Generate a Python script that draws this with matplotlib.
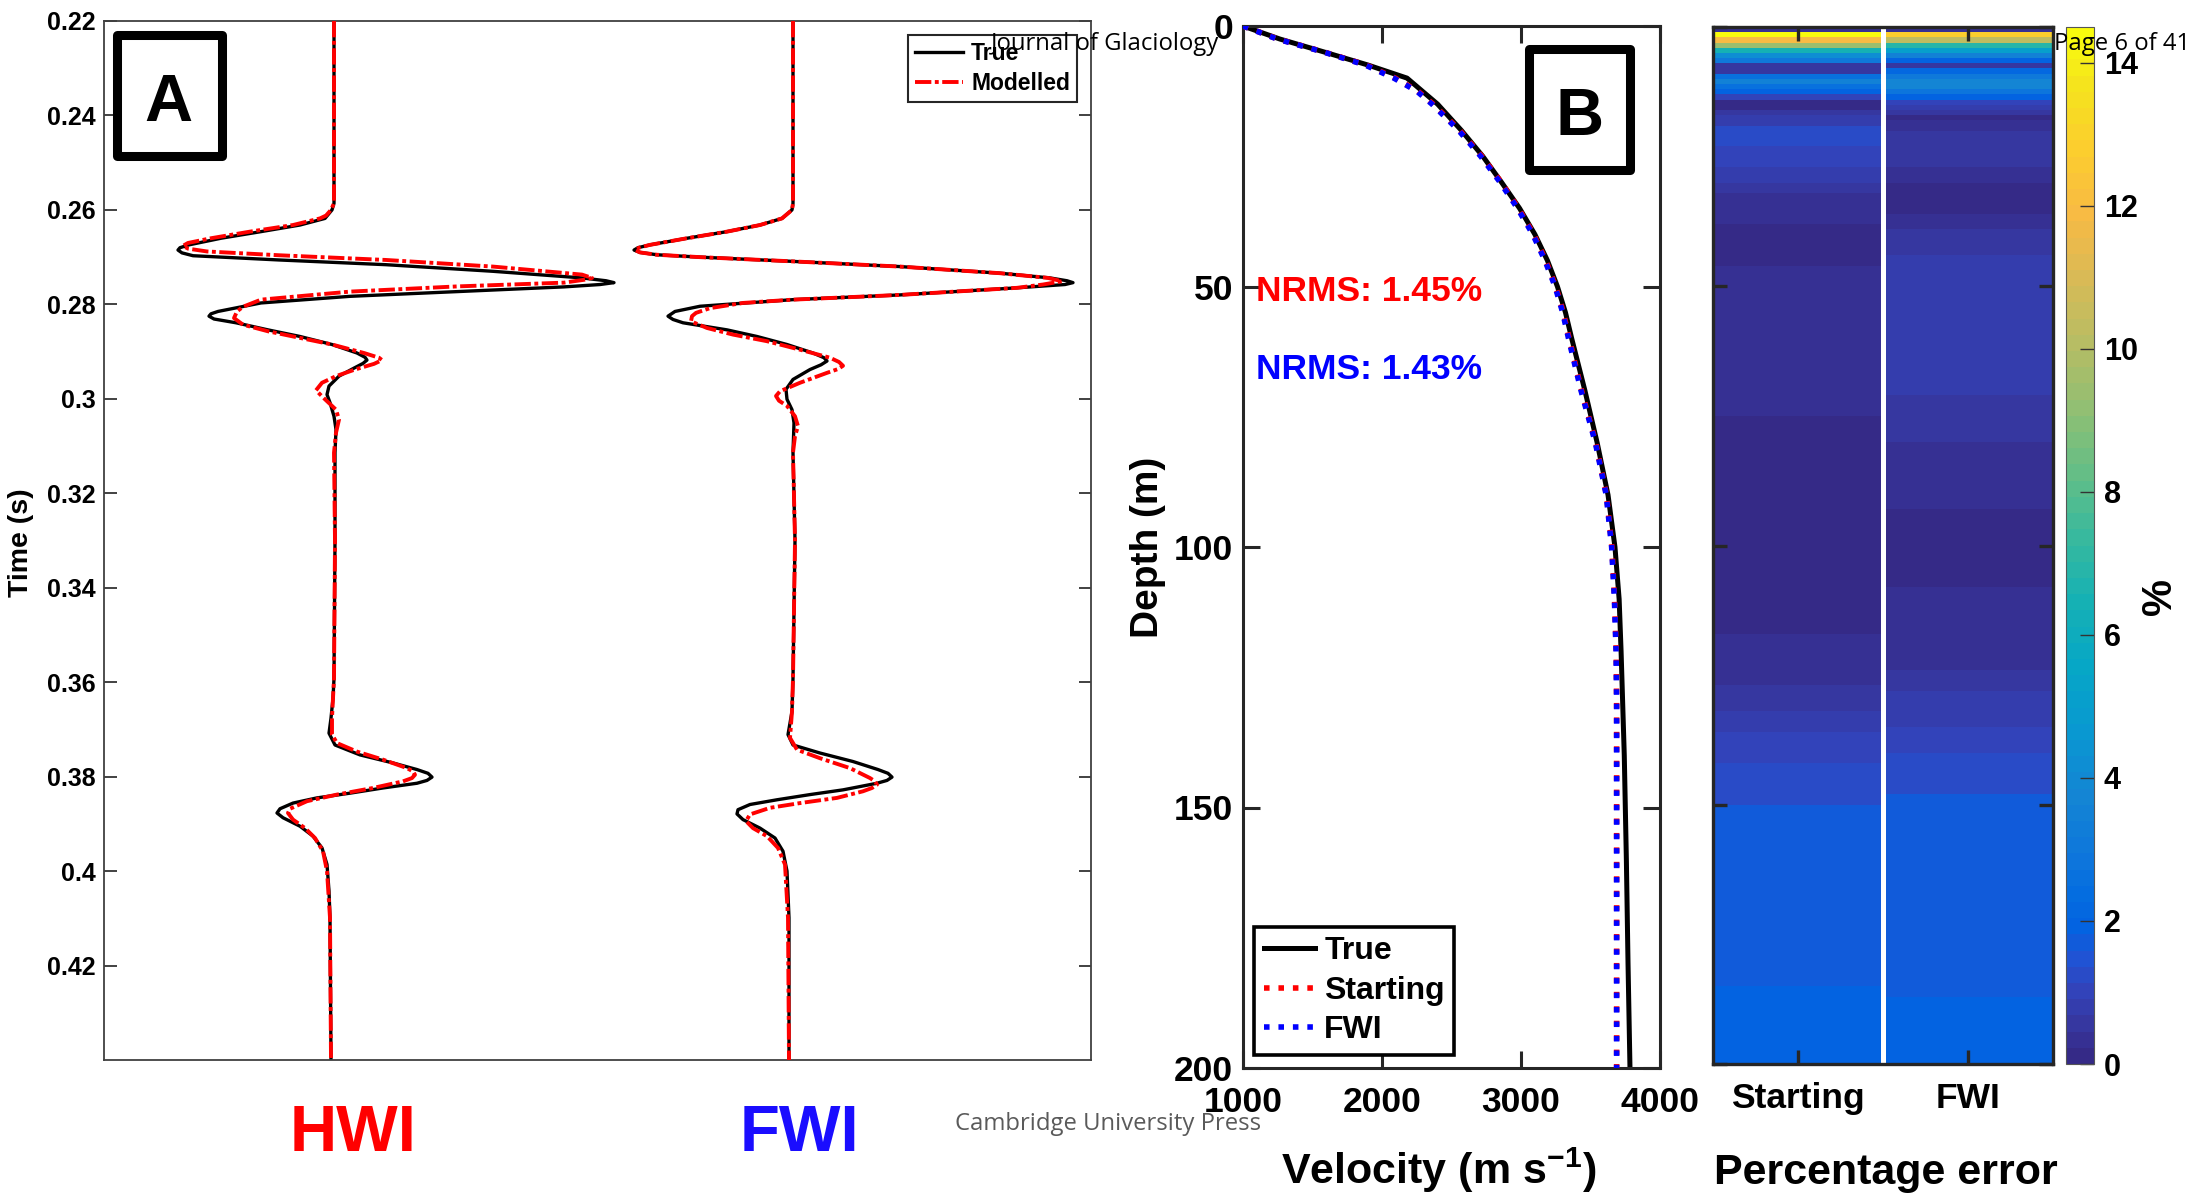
import numpy as np
import matplotlib
matplotlib.use("Agg")
import matplotlib.pyplot as plt
from matplotlib.colors import LinearSegmentedColormap, Normalize
from matplotlib.patches import Rectangle

# ---------------- panel A: traces as (time s, amplitude) ----------------
hwi_true = [(0.22, 0), (0.2586, 0), (0.2600, -2), (0.2618, -9), (0.2632, -34), (0.2646, -73),
            (0.2660, -113), (0.2674, -145), (0.2680, -154), (0.2685, -156), (0.2691, -152),
            (0.2697, -141), (0.2706, -55), (0.2716, 52), (0.2730, 159), (0.2744, 248),
            (0.2750, 272), (0.2754, 280), (0.2758, 266), (0.2763, 230), (0.2773, 123),
            (0.2783, 16), (0.2797, -73), (0.2815, -116), (0.2820, -123), (0.2825, -125),
            (0.2831, -120), (0.2839, -98), (0.2854, -66), (0.2868, -34), (0.2885, -2),
            (0.2903, 23), (0.2912, 31), (0.2918, 33), (0.2925, 29), (0.2935, 20), (0.2952, 5),
            (0.2973, -5), (0.2991, -7), (0.3008, -4), (0.3037, 0), (0.3065, 2), (0.3114, 1),
            (0.3300, 1), (0.3592, 0), (0.3634, -1), (0.3676, -3), (0.3708, -5), (0.3733, 1),
            (0.3754, 26), (0.3771, 59), (0.3785, 83), (0.3793, 94), (0.3801, 98), (0.3808, 93),
            (0.3814, 83), (0.3824, 49), (0.3835, 16), (0.3845, -17), (0.3856, -41),
            (0.3868, -54), (0.3877, -57), (0.3887, -51), (0.3905, -34), (0.3926, -21),
            (0.3951, -12), (0.3986, -7), (0.4042, -5), (0.4099, -4), (0.44, -3)]

hwi_model = [(0.22, 0), (0.2586, 0), (0.2600, -3), (0.2612, -8), (0.2618, -14), (0.2632, -41),
             (0.2646, -84), (0.2660, -123), (0.2670, -146), (0.2676, -151), (0.2682, -146),
             (0.2688, -127), (0.2696, -55), (0.2706, 52), (0.2720, 159), (0.2737, 248),
             (0.2744, 258), (0.2748, 250), (0.2754, 230), (0.2762, 123), (0.2773, 16),
             (0.2790, -73), (0.2805, -91), (0.2815, -97), (0.2829, -100), (0.2843, -91),
             (0.2857, -66), (0.2871, -34), (0.2885, -2), (0.2903, 30), (0.2913, 45),
             (0.2918, 48), (0.2926, 40), (0.2938, 21), (0.2952, 2), (0.2966, -12),
             (0.2982, -18), (0.3001, -9), (0.3023, 2), (0.3044, 5), (0.3072, 2), (0.3114, 0),
             (0.3300, 1), (0.3592, 0), (0.3676, -2), (0.3711, -2), (0.3729, 3), (0.3747, 23),
             (0.3764, 49), (0.3782, 73), (0.3789, 79), (0.3796, 81), (0.3803, 78), (0.3810, 69),
             (0.3824, 39), (0.3838, 3), (0.3852, -27), (0.3868, -44), (0.3877, -46),
             (0.3891, -41), (0.3909, -29), (0.3930, -19), (0.3958, -11), (0.4000, -7),
             (0.4099, -4), (0.44, -3)]

fwi_true = [(0.22, 0), (0.2586, 0), (0.2600, -1), (0.2618, -11), (0.2632, -33), (0.2646, -66),
            (0.2660, -106), (0.2674, -143), (0.2680, -155), (0.2685, -159), (0.2690, -153),
            (0.2695, -136), (0.2700, -93), (0.2709, 0), (0.2720, 107), (0.2734, 207),
            (0.2744, 257), (0.2750, 274), (0.2754, 280), (0.2758, 272), (0.2765, 224),
            (0.2780, 107), (0.2790, 0), (0.2804, -93), (0.2815, -118), (0.2825, -125),
            (0.2832, -120), (0.2839, -110), (0.2854, -66), (0.2868, -36), (0.2885, -6),
            (0.2903, 20), (0.2913, 31), (0.2920, 34), (0.2928, 28), (0.2938, 17), (0.2959, 0),
            (0.2980, -7), (0.3001, -6), (0.3023, -1), (0.3051, 1), (0.3114, 0), (0.3300, 2),
            (0.3592, 0), (0.3662, -1), (0.3711, -5), (0.3733, 0), (0.3750, 27), (0.3768, 60),
            (0.3785, 85), (0.3793, 95), (0.3801, 99), (0.3808, 94), (0.3814, 84), (0.3828, 50),
            (0.3838, 17), (0.3849, -16), (0.3859, -43), (0.3870, -55), (0.3879, -56),
            (0.3891, -50), (0.3909, -33), (0.3930, -18), (0.3958, -10), (0.4000, -6),
            (0.4099, -4), (0.44, -4)]

fwi_model = [(0.22, 0), (0.2586, 0), (0.2600, -1), (0.2618, -11), (0.2632, -33), (0.2646, -66),
             (0.2660, -106), (0.2674, -143), (0.2680, -154), (0.2685, -158), (0.2690, -153),
             (0.2695, -136), (0.2700, -93), (0.2709, 0), (0.2720, 107), (0.2734, 207),
             (0.2744, 255), (0.2751, 269), (0.2758, 250), (0.2765, 224), (0.2780, 107),
             (0.2790, 0), (0.2797, -50), (0.2808, -83), (0.2818, -97), (0.2825, -101),
             (0.2836, -102), (0.2850, -86), (0.2864, -60), (0.2878, -26), (0.2896, 7),
             (0.2913, 37), (0.2922, 46), (0.2930, 50), (0.2937, 45), (0.2945, 34), (0.2966, 7),
             (0.2984, -13), (0.2994, -17), (0.3004, -14), (0.3015, -6), (0.3037, 2),
             (0.3058, 5), (0.3079, 2), (0.3114, 0), (0.3300, 2), (0.3592, 0), (0.3662, -1),
             (0.3718, -3), (0.3743, 4), (0.3761, 27), (0.3782, 57), (0.3803, 77), (0.3810, 82),
             (0.3817, 84), (0.3824, 79), (0.3831, 70), (0.3845, 44), (0.3856, 7),
             (0.3866, -23), (0.3880, -43), (0.3894, -47), (0.3909, -40), (0.3926, -26),
             (0.3951, -15), (0.3986, -8), (0.4099, -5), (0.44, -4)]

time_ticks = [0.22, 0.24, 0.26, 0.28, 0.30, 0.32, 0.34, 0.36, 0.38, 0.40, 0.42]
time_labels = ["0.22", "0.24", "0.26", "0.28", "0.3", "0.32", "0.34", "0.36", "0.38", "0.4", "0.42"]

# ---------------- panel B: velocity profiles ----------------
depth_true = [0, 2.5, 5, 7.5, 10, 15, 20, 25, 30, 35, 40, 45, 50, 55, 60, 70, 80, 90, 100,
              110, 120, 140, 160, 180, 200]
vel_true = [1000, 1265, 1585, 1900, 2180, 2400, 2570, 2725, 2860, 2990, 3100, 3190, 3262,
            3320, 3365, 3460, 3548, 3626, 3676, 3706, 3720, 3743, 3758, 3770, 3784]
depth_model = [0, 2.5, 5, 7.5, 10, 12.5, 15, 20, 25, 30, 35, 40, 45, 50, 55, 60, 70, 80, 90,
               100, 110, 120, 130, 140, 200]
vel_start = [1000, 1250, 1585, 1888, 2095, 2258, 2368, 2558, 2718, 2858, 2982, 3092, 3178,
             3250, 3305, 3347, 3436, 3538, 3615, 3654, 3673, 3685, 3688, 3688, 3688]
vel_fwi = [1000, 1245, 1580, 1880, 2085, 2250, 2360, 2550, 2710, 2850, 2975, 3085, 3172,
           3245, 3300, 3342, 3432, 3535, 3613, 3652, 3672, 3684, 3688, 3688, 3688]

# ---------------- panel C: percentage error per depth band ----------------
start_edges = [0, 1, 2, 3, 4, 5, 6, 7, 9, 10, 11, 12, 13, 14, 16, 17, 19, 23, 27, 30, 32, 35,
               38, 46, 75, 117, 123, 127, 132, 136, 142, 150, 158, 170, 185, 200]
start_err = [0.3, 14.4, 12.0, 9.5, 6.5, 4.3, 3.0, 0.6, 2.5, 3.5, 2.6, 2.0, 1.0, 0.1, 0.5, 0.9,
             1.2, 1.1, 0.8, 0.6, 0.45, 0.35, 0.1, 0.25, 0.05, 0.3, 0.45, 0.65, 0.85, 1.05, 1.2,
             1.6, 1.7, 1.8, 1.9]
fwi_edges = [0, 1, 2, 3, 4, 5, 6, 7, 8, 9, 10, 12, 13, 14, 15, 16, 17, 18, 20, 27, 30, 36, 39,
             44, 71, 80, 93, 108, 118, 124, 128, 135, 140, 148, 156, 170, 187, 200]
fwi_err = [0.3, 12.8, 10.2, 7.0, 5.0, 3.6, 2.0, 0.6, 2.2, 3.0, 3.7, 2.8, 2.0, 1.0, 0.8, 0.6,
           0.05, 0.35, 0.55, 0.35, 0.05, 0.4, 0.55, 0.7, 0.55, 0.4, 0.05, 0.3, 0.45, 0.6, 0.8,
           1.0, 1.2, 1.6, 1.7, 1.8, 1.9]
column_names = ["Starting", "FWI"]

# parula-like colormap
parula_anchors = [
    (0 / 63, (0.2081, 0.1663, 0.5292)), (2 / 63, (0.2123, 0.2138, 0.6270)),
    (4 / 63, (0.1959, 0.2645, 0.7279)), (6 / 63, (0.1253, 0.3242, 0.8303)),
    (8 / 63, (0.0117, 0.3875, 0.8820)), (10 / 63, (0.0165, 0.4266, 0.8786)),
    (12 / 63, (0.0498, 0.4586, 0.8641)), (16 / 63, (0.0793, 0.5200, 0.8312)),
    (20 / 63, (0.0343, 0.5966, 0.8199)), (24 / 63, (0.0228, 0.6535, 0.7768)),
    (28 / 63, (0.0843, 0.6928, 0.7062)), (32 / 63, (0.2178, 0.7250, 0.6193)),
    (36 / 63, (0.3953, 0.7459, 0.5244)), (40 / 63, (0.5709, 0.7485, 0.4494)),
    (44 / 63, (0.7184, 0.7411, 0.3905)), (48 / 63, (0.8507, 0.7299, 0.3360)),
    (52 / 63, (0.9739, 0.7314, 0.2666)), (56 / 63, (0.9880, 0.8066, 0.1794)),
    (60 / 63, (0.9589, 0.8949, 0.1132)), (63 / 63, (0.9763, 0.9831, 0.0538)),
]
parula = LinearSegmentedColormap.from_list("parula", parula_anchors, N=64)

W, H, DPI = 2202, 1196, 100
plt.rcParams['font.family'] = ['Liberation Sans', 'DejaVu Sans']
plt.rcParams['font.weight'] = 'bold'
plt.rcParams['mathtext.default'] = 'regular'


def px_box(x0, y0, x1, y1):
    # pixel box (origin top-left) -> [left, bottom, width, height] in figure fraction
    return [x0 / W, 1 - y1 / H, (x1 - x0) / W, (y1 - y0) / H]


def fx(x):
    return x / W


def fy(y):
    return 1 - y / H


def label_box(fig, x0, y0, x1, y1, lw):
    fig.add_artist(Rectangle((fx(x0), fy(y1)), (x1 - x0) / W, (y1 - y0) / H, fill=False,
                             ec='black', lw=lw, joinstyle='round', transform=fig.transFigure))


fig = plt.figure(figsize=(W / DPI, H / DPI), dpi=DPI)
fig.patch.set_facecolor('white')

# ---------------- panel A ----------------
ax_a = fig.add_axes(px_box(104, 21, 1091, 1060))
hwi_offset, fwi_offset = 0, 459
handles = []
for offset, tr_true, tr_model in [(hwi_offset, hwi_true, hwi_model), (fwi_offset, fwi_true, fwi_model)]:
    t, a = np.array(tr_true).T
    h1, = ax_a.plot(offset + a, t, color='black', lw=2.4, zorder=2, solid_joinstyle='round')
    t, a = np.array(tr_model).T
    h2, = ax_a.plot(offset + a, t, color='red', lw=2.8, dashes=(4.2, 0.9, 1.0, 0.9), zorder=3)
    handles = [h1, h2]
ax_a.set_xlim(-230, 757)
ax_a.set_ylim(0.44, 0.22)
ax_a.set_xticks([])
ax_a.set_yticks(time_ticks)
ax_a.set_yticklabels(time_labels)
ax_a.tick_params(axis='y', direction='in', length=9, width=1.3, right=True, labelsize=18,
                 pad=6, color='#333333')
for sp in ax_a.spines.values():
    sp.set_linewidth(1.3)
    sp.set_edgecolor('#404040')
leg_a = ax_a.legend(handles, ['True', 'Modelled'], loc='upper right',
                    bbox_to_anchor=(0.9858, 0.9865), borderaxespad=0, fancybox=False,
                    prop=dict(size=16.5, weight='bold'), handlelength=2.1, handletextpad=0.35,
                    labelspacing=0.3, borderpad=0.3, framealpha=1, edgecolor='#262626')
leg_a.get_frame().set_linewidth(1.5)

fig.text(fx(21), fy(543), 'Time (s)', rotation=90, ha='center', va='center', fontsize=20.5)
label_box(fig, 116.5, 35.5, 221.5, 155.5, 6.5)
fig.text(fx(168), fy(121), 'A', ha='center', va='baseline', fontsize=48)
fig.text(fx(353), fy(1151), 'HWI', color='#ff0000', ha='center', va='baseline', fontsize=47)
fig.text(fx(799), fy(1151), 'FWI', color='#1a0dff', ha='center', va='baseline', fontsize=47)

# ---------------- panel B ----------------
ax_b = fig.add_axes(px_box(1243, 26, 1660, 1068))
dotted = (0, (1.0, 1.6))
ax_b.plot(vel_true, depth_true, color='black', lw=3.6, label='True', zorder=2)
ax_b.plot(vel_start, depth_model, color='red', lw=4.0, ls=dotted, label='Starting', zorder=3)
ax_b.plot(vel_fwi, depth_model, color='blue', lw=4.0, ls=dotted, label='FWI', zorder=4)
ax_b.set_xlim(1000, 4000)
ax_b.set_ylim(200, 0)
ax_b.set_xticks([1000, 2000, 3000, 4000])
ax_b.set_yticks([0, 50, 100, 150, 200])
ax_b.tick_params(axis='both', direction='in', length=12, width=2.2, top=True, right=True,
                 labelsize=25.5, color='#262626')
ax_b.tick_params(axis='x', pad=13)
ax_b.tick_params(axis='y', pad=7)
for sp in ax_b.spines.values():
    sp.set_linewidth(2.2)
    sp.set_edgecolor('#262626')
leg_b = ax_b.legend(loc='lower left', bbox_to_anchor=(0.0264, 0.0125), borderaxespad=0,
                    fancybox=False, prop=dict(size=23, weight='bold'), handlelength=1.6,
                    handletextpad=0.3, labelspacing=0.3, borderpad=0.3, framealpha=1,
                    edgecolor='black')
leg_b.get_frame().set_linewidth(2.6)

fig.text(fx(1148), fy(547), 'Depth (m)', rotation=90, ha='center', va='center', fontsize=28)
fig.text(fx(1256), fy(301), 'NRMS: 1.45%', color='red', ha='left', va='baseline', fontsize=25.5)
fig.text(fx(1256), fy(379), 'NRMS: 1.43%', color='blue', ha='left', va='baseline', fontsize=25.5)
label_box(fig, 1528.5, 49.5, 1629.5, 169.5, 6.5)
fig.text(fx(1580), fy(135), 'B', ha='center', va='baseline', fontsize=48)
fig.text(fx(1439), fy(1184), 'Velocity (m s$^{-1}$)', ha='center', va='baseline', fontsize=31)

# ---------------- panel C: heatmap ----------------
ax_c = fig.add_axes(px_box(1713, 27, 2053, 1064))
norm = Normalize(vmin=0, vmax=14.5)
mesh = None
for x0, edges, vals in [(0.5, start_edges, start_err), (1.5, fwi_edges, fwi_err)]:
    mesh = ax_c.pcolormesh([x0, x0 + 1], edges, np.array(vals)[:, None], cmap=parula,
                           norm=norm, shading='flat')
ax_c.axvline(1.5, color='white', lw=3.6)
ax_c.set_xlim(0.5, 2.5)
ax_c.set_ylim(200, 0)
ax_c.set_xticks([1, 2])
ax_c.set_xticklabels(column_names)
ax_c.set_yticks([0, 50, 100, 150, 200])
ax_c.set_yticklabels([])
ax_c.tick_params(axis='both', direction='in', length=10, width=2.4, top=True, right=True,
                 labelsize=25.5, color='#262626')
ax_c.tick_params(axis='x', pad=13)
for sp in ax_c.spines.values():
    sp.set_linewidth(2.4)
    sp.set_edgecolor('#262626')
fig.text(fx(1886), fy(1184), 'Percentage error', ha='center', va='baseline', fontsize=31)

# colorbar
cax = fig.add_axes(px_box(2066, 27, 2094, 1064))
cb = fig.colorbar(mesh, cax=cax)
cb.set_ticks(list(range(0, 15, 2)))
cax.tick_params(direction='in', length=10, width=1.0, labelsize=22, pad=7, color='#333333')
cb.outline.set_linewidth(0.8)
cb.outline.set_edgecolor('#555555')
fig.text(fx(2160), fy(597), '%', rotation=90, ha='center', va='center', fontsize=30)

# ---------------- page overlay texts ----------------
page_font = dict(family=['Open Sans', 'DejaVu Sans'], weight='normal', fontsize=17.2)
fig.text(fx(991), fy(50), 'Journal of Glaciology', ha='left', va='baseline', **page_font)
fig.text(fx(2190), fy(50), 'Page 6 of 41', ha='right', va='baseline', **page_font)
fig.text(fx(955), fy(1130), 'Cambridge University Press', ha='left', va='baseline',
         color='#5a5a5a', **page_font)

fig.savefig('out.png', dpi=DPI, facecolor='white')
